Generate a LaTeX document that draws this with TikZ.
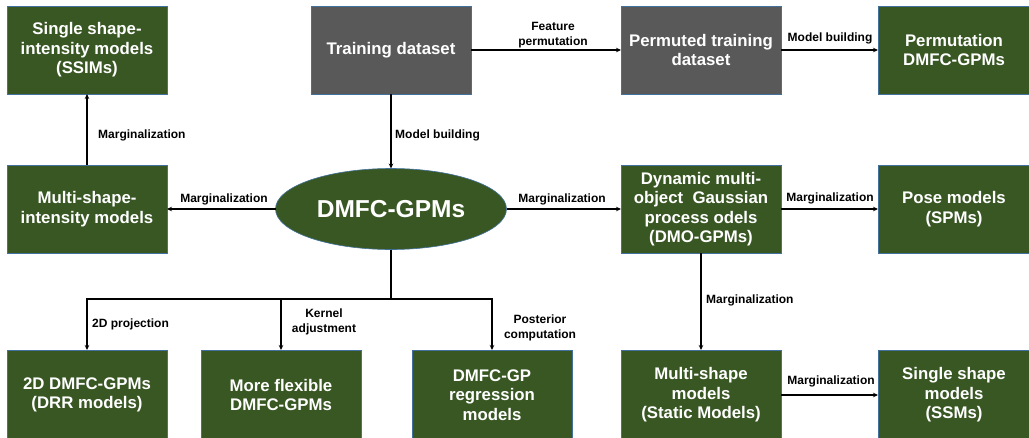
\documentclass[tikz,border=0pt]{standalone}
\usepackage{fontspec}
\setmainfont{Liberation Sans}
\usetikzlibrary{arrows.meta,shapes.geometric}
\definecolor{boxgreen}{HTML}{385723}
\definecolor{boxgray}{HTML}{595959}
\definecolor{boxedge}{HTML}{41719C}
\begin{document}
\begin{tikzpicture}[x=1pt,y=-1pt,
  box/.style={draw=boxedge, line width=0.6pt, fill=boxgreen, text=white, inner sep=0pt, outer sep=0pt,
    minimum width=160pt, minimum height=88pt, align=center, font=\fontsize{16.8}{19.5}\selectfont\bfseries},
  graybox/.style={box, fill=boxgray},
  lbl/.style={font=\fontsize{12}{14.5}\selectfont\bfseries, inner sep=0pt, align=center},
  arr/.style={line width=1.4pt, -{Stealth[length=5pt,width=4.5pt]}},
  ln/.style={line width=1.4pt}]
\useasboundingbox (0,0) rectangle (1029,437);
% top row
\node[box] (ssim) at (87,50) {Single shape-\\intensity models\\(SSIMs)};
\node[graybox] (train) at (391,50) {Training dataset};
\node[graybox] (perm) at (701,50) {Permuted training\\dataset};
\node[box, minimum width=152pt] (pdmfc) at (954,50) {Permutation\\DMFC-GPMs};
% middle row
\node[box] (msi) at (87,209) {Multi-shape-\\intensity models};
\node[ellipse, draw=boxedge, line width=0.6pt, fill=boxgreen, text=white, inner sep=0pt, outer sep=0pt,
  minimum width=231pt, minimum height=81pt, font=\fontsize{24.5}{28}\selectfont\bfseries] (dmfc) at (391,209) {DMFC-GPMs};
\node[box] (dmo) at (701,209) {Dynamic multi-\\object\ \ Gaussian\\process odels\\(DMO-GPMs)};
\node[box, minimum width=152pt] (pose) at (954,209) {Pose models\\(SPMs)};
% bottom row
\node[box, minimum height=90pt] (dd) at (87,395) {2D DMFC-GPMs\\(DRR models)};
\node[box, minimum height=90pt] (flex) at (281,395) {More flexible\\DMFC-GPMs};
\node[box, minimum height=90pt] (reg) at (492,395) {DMFC-GP\\regression\\models};
\node[box, minimum height=90pt] (msm) at (701,395) {Multi-shape\\models\\(Static Models)};
\node[box, minimum width=152pt, minimum height=90pt] (ssm) at (954,395) {Single shape\\models\\(SSMs)};
% connectors
\draw[arr] (train) -- (dmfc);
\draw[arr] (train) -- (perm);
\draw[arr] (perm) -- (pdmfc);
\draw[arr] (msi) -- (ssim);
\draw[arr] (dmfc) -- (msi);
\draw[arr] (dmfc) -- (dmo);
\draw[arr] (dmo) -- (pose);
\draw[arr] (dmo) -- (msm);
\draw[arr] (msm) -- (ssm);
\coordinate (j) at (391,299);
\draw[ln] (dmfc.south) -- (j);
\draw[arr] (j) -| (dd.north);
\draw[arr] (j) -| (flex.north);
\draw[arr] (j) -| (reg.north);
% labels
\node[lbl, anchor=west] (l1) at (395,135) {Model building};
\node[lbl] (l2) at (553,35) {Feature\\permutation};
\node[lbl] (l3) at (830,38) {Model building};
\node[lbl, anchor=west] (l4) at (98,135) {Marginalization};
\node[lbl] (l5) at (224,199) {Marginalization};
\node[lbl] (l6) at (562,199) {Marginalization};
\node[lbl] (l7) at (830,198) {Marginalization};
\node[lbl, anchor=west] (l8) at (706,300) {Marginalization};
\node[lbl] (l9) at (831,381) {Marginalization};
\node[lbl, anchor=west] (l10) at (92,324) {2D projection};
\node[lbl] (l11) at (324,322) {Kernel\\adjustment};
\node[lbl] (l12) at (540,328) {Posterior\\computation};
\end{tikzpicture}
\end{document}
